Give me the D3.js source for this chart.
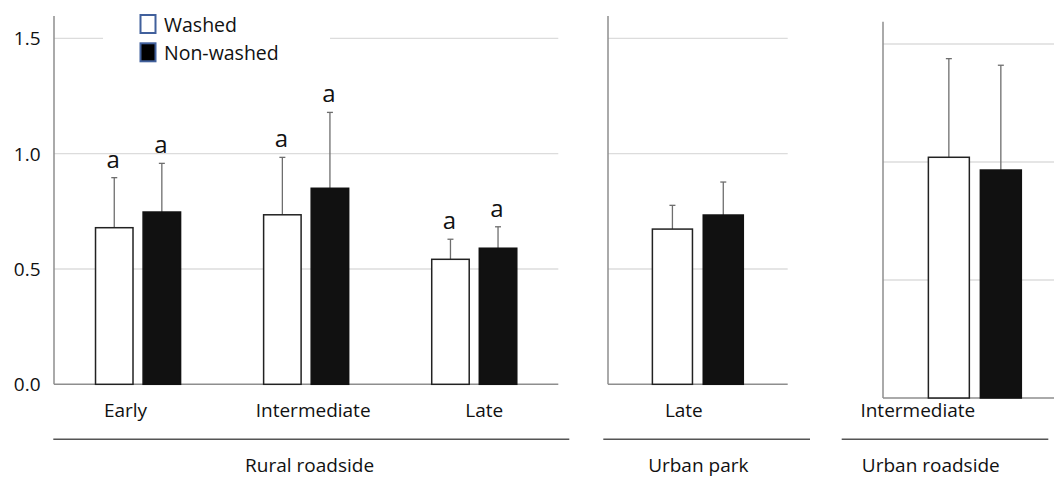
<!DOCTYPE html>
<html>
<head>
<meta charset="utf-8">
<script src="https://cdn.jsdelivr.net/npm/d3@7"></script>
<style>
  body { margin: 0; background: #fff; }
  svg { display: block; font-family: "Open Sans", sans-serif; }
</style>
</head>
<body>
<svg id="chart" width="1054" height="477"></svg>
<script>
// ---- data ----
const series = ["Washed", "Non-washed"];
const yTicks = [0, 0.5, 1.0, 1.5];
const tickLabels = ["0.0", "0.5", "1.0", "1.5"];

const ruralStages = ["Early", "Intermediate", "Late"];
const ruralWashed = [0.679, 0.735, 0.542];
const ruralNonWashed = [0.747, 0.850, 0.590];
const ruralWashedSE = [0.217, 0.249, 0.087];
const ruralNonWashedSE = [0.211, 0.329, 0.093];
const ruralLetters = ["a", "a", "a"];

const parkStages = ["Late"];
const parkWashed = [0.673];
const parkNonWashed = [0.734];
const parkWashedSE = [0.103];
const parkNonWashedSE = [0.143];

const roadStages = ["Intermediate"];
const roadWashed = [1.020];
const roadNonWashed = [0.966];
const roadWashedSE = [0.418];
const roadNonWashedSE = [0.444];

const groupNames = ["Rural roadside", "Urban park", "Urban roadside"];

// ---- layout ----
const svg = d3.select("#chart");
const FONT = 19;
const colors = { "Washed": "#ffffff", "Non-washed": "#111111" };

function rows(stages, w, nw, wse, nwse, letters) {
  return stages.map((s, i) => ({
    stage: s,
    bars: [
      { key: "Washed", mean: w[i], se: wse[i], letter: letters ? letters[i] : null },
      { key: "Non-washed", mean: nw[i], se: nwse[i], letter: letters ? letters[i] : null }
    ]
  }));
}

const panels = [
  { name: groupNames[0], data: rows(ruralStages, ruralWashed, ruralNonWashed, ruralWashedSE, ruralNonWashedSE, ruralLetters),
    x: [54, 558.3], y: [384.3, 15.3], axisTop: 16, ticks: true,
    labelNudge: [-12.5, 7, 10], labelY: 416.5,
    line: [53.3, 569.3], groupX: 309.6 },
  { name: groupNames[1], data: rows(parkStages, parkWashed, parkNonWashed, parkWashedSE, parkNonWashedSE, null),
    x: [608, 787.7], y: [384.3, 15.3], axisTop: 16, ticks: false,
    labelNudge: [-14], labelY: 416.5,
    line: [603.3, 810], groupX: 698.3 },
  { name: groupNames[2], data: rows(roadStages, roadWashed, roadNonWashed, roadWashedSE, roadNonWashedSE, null),
    x: [883, 1066.7], y: [398, 20.4], axisTop: 21.7, ticks: false,
    labelNudge: [-57], labelY: 416.5,
    line: [841.7, 1048.3], groupX: 930.8 }
];

panels.forEach(p => {
  const g = svg.append("g");
  const x0 = d3.scaleBand().domain(p.data.map(d => d.stage)).range(p.x).padding(0);
  const B = x0.bandwidth();
  const x1 = d3.scaleBand().domain(series).range([B * 0.247, B * 0.753]).paddingInner(0.212).paddingOuter(0);
  const y = d3.scaleLinear().domain([0, 1.6]).range(p.y);

  // gridlines
  g.append("g").selectAll("line").data(yTicks.filter(t => t > 0)).join("line")
    .attr("x1", p.x[0]).attr("x2", p.x[1])
    .attr("y1", d => y(d)).attr("y2", d => y(d))
    .attr("stroke", "#dcdcdc").attr("stroke-width", 1.3);

  // baseline and vertical axis
  g.append("line").attr("x1", p.x[0]).attr("x2", p.x[1])
    .attr("y1", y(0)).attr("y2", y(0)).attr("stroke", "#8e8e8e").attr("stroke-width", 1.5);
  g.append("line").attr("x1", p.x[0]).attr("x2", p.x[0])
    .attr("y1", p.axisTop).attr("y2", y(0)).attr("stroke", "#8e8e8e").attr("stroke-width", 1.5);

  if (p.ticks) {
    g.append("g").selectAll("text").data(yTicks).join("text")
      .attr("x", 40.5).attr("y", d => y(d)).attr("dy", "0.36em")
      .attr("text-anchor", "end").attr("font-size", FONT).attr("fill", "#111")
      .text((d, i) => tickLabels[i]);
  }

  const grp = g.selectAll("g.stage").data(p.data).join("g")
    .attr("class", "stage")
    .attr("transform", d => `translate(${x0(d.stage)},0)`);

  const bar = grp.selectAll("g.bar").data(d => d.bars).join("g").attr("class", "bar");

  // error bars (upper only)
  bar.append("line")
    .attr("x1", d => x1(d.key) + x1.bandwidth() / 2).attr("x2", d => x1(d.key) + x1.bandwidth() / 2)
    .attr("y1", d => y(d.mean)).attr("y2", d => y(d.mean + d.se))
    .attr("stroke", "#6e6e6e").attr("stroke-width", 1.3);
  bar.append("line")
    .attr("x1", d => x1(d.key) + x1.bandwidth() / 2 - 3).attr("x2", d => x1(d.key) + x1.bandwidth() / 2 + 3)
    .attr("y1", d => y(d.mean + d.se)).attr("y2", d => y(d.mean + d.se))
    .attr("stroke", "#6e6e6e").attr("stroke-width", 1.3);

  bar.append("rect")
    .attr("x", d => x1(d.key)).attr("width", x1.bandwidth())
    .attr("y", d => y(d.mean)).attr("height", d => y(0) - y(d.mean))
    .attr("fill", d => colors[d.key])
    .attr("stroke", d => d.key === "Washed" ? "#222" : "#111")
    .attr("stroke-width", 1.5);

  // significance letters
  bar.filter(d => d.letter).append("text")
    .attr("x", d => x1(d.key) + x1.bandwidth() / 2 - 1)
    .attr("y", d => y(d.mean + d.se) - 10)
    .attr("text-anchor", "middle").attr("font-size", 24).attr("fill", "#111")
    .text(d => d.letter);

  // stage labels
  g.append("g").selectAll("text").data(p.data).join("text")
    .attr("x", (d, i) => x0(d.stage) + B / 2 + p.labelNudge[i])
    .attr("y", p.labelY)
    .attr("text-anchor", "middle").attr("font-size", FONT).attr("fill", "#111")
    .text(d => d.stage);

  // group separator and name
  g.append("line").attr("x1", p.line[0]).attr("x2", p.line[1])
    .attr("y1", 439.3).attr("y2", 439.3).attr("stroke", "#555").attr("stroke-width", 1.5);
  g.append("text").attr("x", p.groupX).attr("y", 471.5)
    .attr("text-anchor", "middle").attr("font-size", FONT).attr("fill", "#111")
    .text(p.name);
});

// legend
const legend = svg.append("g");
legend.append("rect").attr("x", 103).attr("y", 10).attr("width", 227).attr("height", 56).attr("fill", "#fff");
const legendRows = legend.selectAll("g").data(series).join("g")
  .attr("transform", (d, i) => `translate(0,${i * 28.3})`);
legendRows.append("rect")
  .attr("x", 140.5).attr("y", 15).attr("width", 15).attr("height", 18)
  .attr("fill", d => d === "Washed" ? "#fff" : "#000")
  .attr("stroke", "#41609c").attr("stroke-width", 2);
legendRows.append("text")
  .attr("x", 164).attr("y", 31.5)
  .attr("font-size", 19.5).attr("fill", "#111")
  .text(d => d);
</script>
</body>
</html>
